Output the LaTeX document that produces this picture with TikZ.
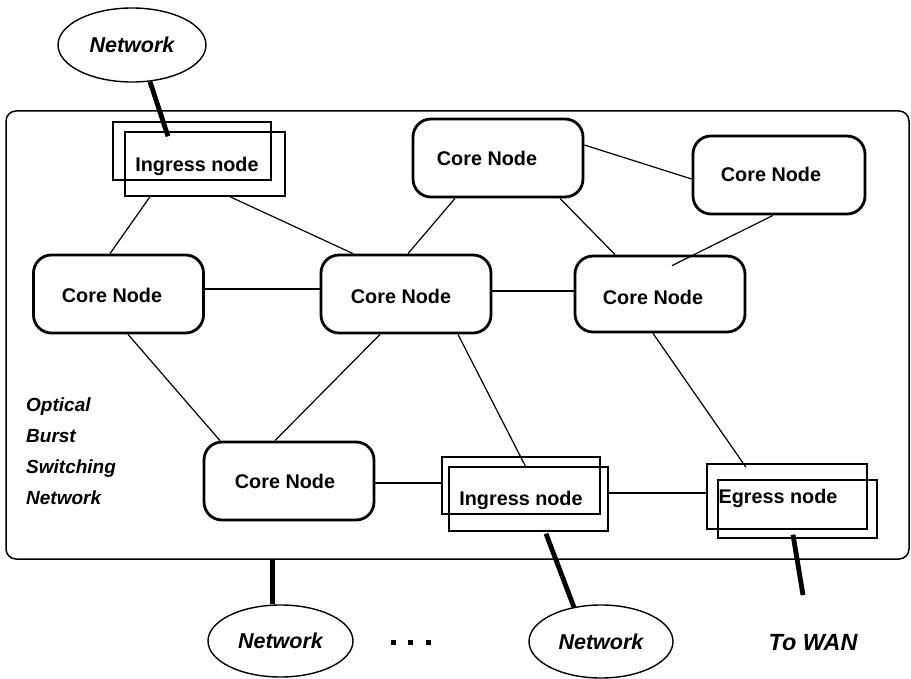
\documentclass[tikz,border=0pt]{standalone}
\usepackage{fontspec}
\setmainfont{Liberation Sans}
\usetikzlibrary{calc,shapes.geometric}
\begin{document}
\begin{tikzpicture}[x=1pt,y=-1pt,
  core/.style={draw,rectangle,rounded corners=18pt,line width=2.8pt,
    minimum width=170pt,minimum height=78pt,inner sep=0pt},
  boxfont/.style={font=\fontsize{19.8}{24}\selectfont\bfseries},
  edgebox/.style={draw,rectangle,line width=1.4pt,inner sep=0pt},
  net/.style={draw,ellipse,line width=1.4pt,inner sep=0pt,
    font=\fontsize{21.5}{26}\selectfont\bfseries\itshape},
  link/.style={line width=1.2pt},
  access/.style={line width=4.8pt},
]
\useasboundingbox (0,0) rectangle (911,679);

% OBS network boundary
\node[draw,rectangle,rounded corners=10pt,line width=1.5pt,
  minimum width=903pt,minimum height=448pt,inner sep=0pt] (obs) at (457.5,335) {};
\node[font=\fontsize{19}{31}\selectfont\bfseries\itshape,align=left,
  anchor=west,inner sep=0pt] (obsname) at (26,451) {Optical\\Burst\\Switching\\Network};

% core nodes
\node[core,label={[boxfont,xshift=-6.5pt,yshift=-1pt]center:Core Node}] (cl) at (118.5,294) {};
\node[core,label={[boxfont,xshift=-5pt,yshift=-2pt]center:Core Node}] (cm) at (406,294) {};
\node[core,minimum height=76pt,label={[boxfont,xshift=-7pt,yshift=-3pt]center:Core Node}] (cr) at (660,294) {};
\node[core,label={[boxfont,xshift=-11pt]center:Core Node}] (ct) at (498,158) {};
\node[core,minimum width=172pt,label={[boxfont,xshift=-8pt,yshift=1pt]center:Core Node}] (cx) at (779,175) {};
\node[core,label={[boxfont,xshift=-4pt]center:Core Node}] (cb) at (289,481) {};

% edge nodes (double outlines)
\node[edgebox,minimum width=158pt,minimum height=58pt] (ingA) at (192,151) {};
\node[edgebox,minimum width=160pt,minimum height=64pt,
  label={[boxfont,xshift=-8pt,yshift=-2pt]center:Ingress node}] (ingB) at (205,164) {};
\node[edgebox,minimum width=158pt,minimum height=57pt] (ibA) at (521,485.5) {};
\node[edgebox,minimum width=159pt,minimum height=64pt,
  label={[boxfont,xshift=-7.5pt,yshift=-1pt]center:Ingress node}] (ibB) at (528.5,499) {};
\node[edgebox,minimum width=160pt,minimum height=65pt,
  label={[boxfont,xshift=-9pt,yshift=-1.5pt]center:Egress node}] (egA) at (787,496.5) {};
\node[edgebox,minimum width=159pt,minimum height=58pt] (egB) at (797.5,509) {};

% access networks
\node[net,minimum width=148pt,minimum height=74pt] (netT) at (132,45) {Network};
\node[net,minimum width=145pt,minimum height=72pt] (netL) at (280.5,641) {Network};
\node[net,minimum width=144pt,minimum height=73pt] (netR) at (601,641.5) {Network};
\node (dots) at (410.5,642) {\rule{5pt}{5pt}\hspace{12.5pt}\rule{5pt}{5pt}\hspace{12.5pt}\rule{5pt}{5pt}};
\node[font=\fontsize{23.4}{28}\selectfont\bfseries\itshape] (wan) at (813,643) {To WAN};

% fibre links inside the OBS network
\begin{scope}[link]
  \draw ($(ingB.south)+(-55,0)$) -- ($(cl.north)+(-8.5,0)$);
  \draw ($(ingB.south)+(25,0)$) -- ($(cm.north)+(-53,0)$);
  \draw ($(cl.east)+(0,-5)$) -- ($(cm.west)+(0,-5)$);
  \draw ($(cm.east)+(0,-3)$) -- ($(cr.west)+(0,-3)$);
  \draw ($(ct.south)+(-43,0)$) -- ($(cm.north)+(2,0)$);
  \draw ($(ct.south)+(62,0)$) -- ($(cr.north)+(-45,0)$);
  \draw ($(ct.east)+(0,-13)$) -- ($(cx.west)+(0,4)$);
  \draw ($(cx.south)+(-6,0)$) -- ($(cr.north)+(12,11)$);
  \draw ($(cl.south)+(9.5,0)$) -- ($(cb.north)+(-69,0)$);
  \draw ($(cm.south)+(-26,0)$) -- ($(cb.north)+(-14,0)$);
  \draw ($(cm.south)+(52,0)$) -- ($(ibA.north)+(5,11)$);
  \draw ($(cr.south)+(-7,0)$) -- ($(egA.north)+(-41,4)$);
  \draw ($(cb.east)+(0,2)$) -- ($(ibA.west)+(0,-2.5)$);
  \draw ($(ibB.east)+(0,-6)$) -- ($(egA.west)+(0,-3.5)$);
\end{scope}

% access links
\coordinate (nlTop) at ($(netL.north)+(-8,0)$);
\coordinate (wanEnd) at (803,595);
\begin{scope}[access]
  \draw ($(netT.south)+(18,-1)$) -- ($(ingA.north)+(-24,15)$);
  \draw (nlTop |- obs.south) -- (nlTop);
  \draw ($(ibB.south)+(17.5,2)$) -- ($(netR.north)+(-27,3)$);
  \draw ($(egB.south)+(-4.5,-4)$) -- (wanEnd);
\end{scope}
\end{tikzpicture}
\end{document}
